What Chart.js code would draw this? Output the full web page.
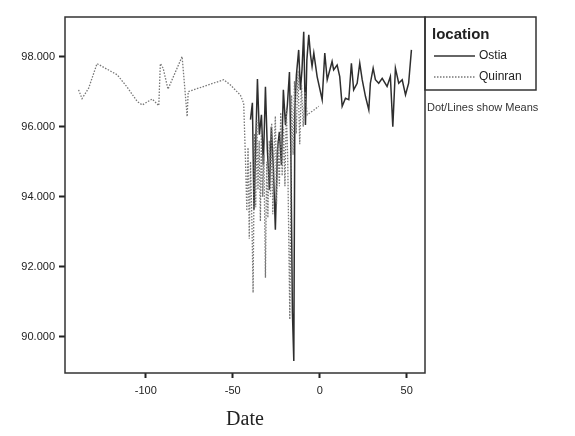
<!DOCTYPE html>
<html>
<head>
<meta charset="utf-8">
<script src="https://cdn.jsdelivr.net/npm/chart.js@4"></script>
<style>
  body { margin: 0; background: #fff; }
</style>
</head>
<body>
<canvas id="js--chart" width="575" height="436"></canvas>
<script>
// Ostia series (solid line)
const ostiaDate = [-39.8, -38.7, -37.8, -35.8, -34.7, -33.5, -32.4, -31.2, -30.1, -28.9, -27.8, -26.6, -25.5,
    -24.3, -23.2, -22.0, -20.9, -19.7, -18.6, -17.4, -16.6, -15.7, -14.9, -14.3, -13.4, -12.1, -11.1, -10.2,
    -9.2, -8.2, -7.4, -6.3, -5.3, -4.4, -3.4, -1.5, 1.4, 2.9, 4.3, 7.1, 8.0, 10.0, 11.5, 12.9, 14.8, 16.7,
    18.2, 19.5, 21.5, 23.0, 24.4, 26.3, 28.2, 29.1, 30.7, 32.0, 33.9, 35.9, 38.7, 40.6, 42.0, 43.5, 45.4,
    47.4, 49.3, 51.1, 52.7];
const ostiaValue = [96.2, 96.68, 93.63, 97.36, 95.77, 96.34, 94.91, 97.14, 95.34, 94.2, 96.0, 94.77, 93.06,
    95.34, 95.85, 94.91, 97.05, 96.05, 96.62, 97.56, 95.34, 90.7, 89.31, 96.48, 97.48, 98.19, 97.05, 97.62,
    98.71, 96.05, 97.9, 98.62, 98.05, 97.72, 98.1, 97.43, 96.77, 98.1, 97.34, 97.86, 97.62, 97.76, 97.43,
    96.58, 96.81, 96.77, 97.81, 97.05, 97.24, 97.81, 97.34, 96.86, 96.48, 97.24, 97.67, 97.34, 97.24, 97.38,
    97.15, 97.43, 96.0, 97.67, 97.24, 97.34, 96.91, 97.24, 98.19];

// Quinran series (dotted line)
const quinranDate = [-138.6, -136.6, -132.8, -128.0, -116.4, -110.7, -104.9, -102.0, -96.3, -92.5, -91.6,
    -90.0, -87.2, -79.1, -77.6, -76.2, -75.6, -55.2, -51.3, -45.6, -43.7, -42.7, -41.9, -41.2, -40.5, -39.8,
    -38.9, -38.3, -37.5, -36.8, -36.1, -35.5, -34.8, -34.1, -33.5, -32.8, -32.1, -31.2, -30.5, -29.8, -29.0,
    -28.3, -27.6, -27.0, -26.2, -25.5, -24.8, -24.0, -23.2, -22.4, -21.6, -20.8, -20.0, -19.2, -18.4, -17.2,
    -16.2, -15.3, -14.5, -13.5, -12.5, -11.5, -10.5, -9.5, -8.5, -7.2, -4.0, -0.6];
const quinranValue = [97.05, 96.8, 97.1, 97.8, 97.48, 97.13, 96.72, 96.62, 96.79, 96.6, 97.8, 97.67, 97.07,
    98.0, 97.13, 96.29, 97.0, 97.34, 97.19, 96.9, 96.67, 95.1, 93.6, 95.4, 92.8, 95.0, 93.1, 91.26, 95.8,
    93.7, 96.2, 94.2, 95.6, 93.3, 95.9, 94.0, 95.2, 91.69, 95.0, 93.4, 95.6, 94.0, 96.1, 93.5, 95.4, 96.3,
    93.8, 95.6, 94.3, 96.4, 94.6, 96.0, 94.3, 96.5, 95.1, 90.5, 96.9, 95.2, 97.3, 95.8, 97.6, 95.5, 97.2,
    96.0, 97.0, 96.34, 96.45, 96.58];

const xTicks = [-100, -50, 0, 50];
const yTicks = [90, 92, 94, 96, 98];
const legendTitle = "location";
const seriesNames = ["Ostia", "Quinran"];
const noteText = "Dot/Lines show Means";

function toPoints(xs, ys) {
    return xs.map(function (x, i) { return { x: x, y: ys[i] }; });
}

const frameAndLegend = {
    id: "frameAndLegend",
    afterDraw: function (chart) {
        const ctx = chart.ctx;
        const a = chart.chartArea;
        ctx.save();
        ctx.strokeStyle = "#333";
        ctx.lineWidth = 1.5;
        ctx.strokeRect(a.left, a.top, a.right - a.left, a.bottom - a.top);

        // legend box
        ctx.strokeRect(a.right, a.top, 111, 73);
        ctx.fillStyle = "#222";
        ctx.font = "bold 15px 'Liberation Sans', Arial, sans-serif";
        ctx.textBaseline = "middle";
        ctx.textAlign = "left";
        ctx.fillText(legendTitle, a.right + 7, a.top + 18);

        ctx.font = "12px 'Liberation Sans', Arial, sans-serif";
        ctx.fillText(seriesNames[0], a.right + 54, a.top + 39);
        ctx.fillText(seriesNames[1], a.right + 54, a.top + 60);

        ctx.lineWidth = 1.3;
        ctx.strokeStyle = "#333";
        ctx.beginPath();
        ctx.moveTo(a.right + 9, a.top + 39);
        ctx.lineTo(a.right + 50, a.top + 39);
        ctx.stroke();

        ctx.strokeStyle = "#777";
        ctx.setLineDash([1.5, 1.5]);
        ctx.beginPath();
        ctx.moveTo(a.right + 9, a.top + 60);
        ctx.lineTo(a.right + 50, a.top + 60);
        ctx.stroke();
        ctx.setLineDash([]);

        ctx.font = "11px 'Liberation Sans', Arial, sans-serif";
        ctx.fillStyle = "#333";
        ctx.fillText(noteText, a.right + 2, a.top + 91);
        ctx.restore();
    }
};

const data = {
    datasets: [
        {
            label: seriesNames[1],
            data: toPoints(quinranDate, quinranValue),
            showLine: true,
            borderColor: "#777",
            borderWidth: 1.3,
            borderDash: [1.5, 1.5],
            pointRadius: 0,
            tension: 0,
        },
        {
            label: seriesNames[0],
            data: toPoints(ostiaDate, ostiaValue),
            showLine: true,
            borderColor: "#2e2e2e",
            borderWidth: 1.5,
            pointRadius: 0,
            tension: 0,
        }
    ]
};

const config = {
    type: "scatter",
    data: data,
    options: {
        responsive: false,
        animation: false,
        devicePixelRatio: 1,
        layout: { padding: { left: 0, top: 17, right: 150, bottom: 0 } },
        plugins: {
            legend: { display: false },
            tooltip: { enabled: false }
        },
        scales: {
            x: {
                type: "linear",
                min: -146.4,
                max: 60.5,
                afterBuildTicks: function (scale) {
                    scale.ticks = xTicks.map(function (v) { return { value: v }; });
                },
                afterFit: function (scale) { scale.height = 63; },
                border: { display: false },
                grid: {
                    drawOnChartArea: false,
                    drawTicks: true,
                    tickLength: 5,
                    tickWidth: 2,
                    tickColor: "#222"
                },
                ticks: {
                    padding: 6,
                    maxRotation: 0,
                    color: "#222",
                    font: { family: "'Liberation Sans', Arial, sans-serif", size: 11 },
                    callback: function (v) { return String(v); }
                },
                title: {
                    display: true,
                    text: "Date",
                    color: "#222",
                    font: { family: "'Liberation Serif', 'Times New Roman', serif", size: 20 },
                    padding: { top: 0, bottom: 4 }
                }
            },
            y: {
                type: "linear",
                min: 88.97,
                max: 99.13,
                afterBuildTicks: function (scale) {
                    scale.ticks = yTicks.map(function (v) { return { value: v }; });
                },
                afterFit: function (scale) { scale.width = 65; },
                border: { display: false },
                grid: {
                    drawOnChartArea: false,
                    drawTicks: true,
                    tickLength: 6,
                    tickWidth: 2,
                    tickColor: "#222"
                },
                ticks: {
                    padding: 4,
                    color: "#222",
                    font: { family: "'Liberation Sans', Arial, sans-serif", size: 11 },
                    callback: function (v) { return v.toFixed(3); }
                }
            }
        }
    },
    plugins: [frameAndLegend]
};

new Chart(document.getElementById("js--chart"), config);
</script>
</body>
</html>
